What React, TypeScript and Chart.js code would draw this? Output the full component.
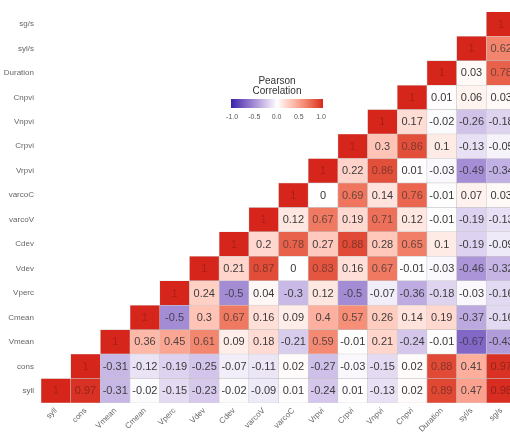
import React, { useEffect, useRef } from 'react';
import { Chart, registerables } from 'chart.js';

Chart.register(...registerables);

const variables = ['syll', 'cons', 'Vmean', 'Cmean', 'Vperc', 'Vdev', 'Cdev', 'varcoV', 'varcoC', 'Vrpvi', 'Crpvi', 'Vnpvi', 'Cnpvi', 'Duration', 'syl/s', 'sg/s'];

// Each row lists correlations from the diagonal cell rightwards
const rowSyll = [1, 0.97, -0.31, -0.02, -0.15, -0.23, -0.02, -0.09, 0.01, -0.24, 0.01, -0.13, 0.02, 0.89, 0.47, 0.98];
const rowCons = [1, -0.31, -0.12, -0.19, -0.25, -0.07, -0.11, 0.02, -0.27, -0.03, -0.15, 0.02, 0.88, 0.41, 0.97];
const rowVmean = [1, 0.36, 0.45, 0.61, 0.09, 0.18, -0.21, 0.59, -0.01, 0.21, -0.24, -0.01, -0.67, -0.43];
const rowCmean = [1, -0.5, 0.3, 0.67, 0.16, 0.09, 0.4, 0.57, 0.26, 0.14, 0.19, -0.37, -0.16];
const rowVperc = [1, 0.24, -0.5, 0.04, -0.3, 0.12, -0.5, -0.07, -0.36, -0.18, -0.03, -0.16];
const rowVdev = [1, 0.21, 0.87, 0, 0.83, 0.16, 0.67, -0.01, -0.03, -0.46, -0.32];
const rowCdev = [1, 0.2, 0.78, 0.27, 0.88, 0.28, 0.65, 0.1, -0.19, -0.09];
const rowVarcoV = [1, 0.12, 0.67, 0.19, 0.71, 0.12, -0.01, -0.19, -0.13];
const rowVarcoC = [1, 0, 0.69, 0.14, 0.76, -0.01, 0.07, 0.03];
const rowVrpvi = [1, 0.22, 0.86, 0.01, -0.03, -0.49, -0.34];
const rowCrpvi = [1, 0.3, 0.86, 0.1, -0.13, -0.05];
const rowVnpvi = [1, 0.17, -0.02, -0.26, -0.18];
const rowCnpvi = [1, 0.01, 0.06, 0.03];
const rowDuration = [1, 0.03, 0.78];
const rowSylS = [1, 0.62];
const rowSgS = [1];

const corrRows = [rowSyll, rowCons, rowVmean, rowCmean, rowVperc, rowVdev, rowCdev, rowVarcoV, rowVarcoC, rowVrpvi, rowCrpvi, rowVnpvi, rowCnpvi, rowDuration, rowSylS, rowSgS];

const legendTicks = [-1.0, -0.5, 0.0, 0.5, 1.0];
const legendTitle = ['Pearson', 'Correlation'];

const LOW = [50, 34, 168];
const MID = [255, 255, 255];
const HIGH = [214, 38, 28];

function toLin(c: number) {
  c /= 255;
  return c <= 0.04045 ? c / 12.92 : Math.pow((c + 0.055) / 1.055, 2.4);
}
function toSrgb(c: number) {
  const v = c <= 0.0031308 ? 12.92 * c : 1.055 * Math.pow(Math.max(c, 0), 1 / 2.4) - 0.055;
  return Math.round(Math.max(0, Math.min(1, v)) * 255);
}
function rgbToLab(rgb: number[]) {
  const R = toLin(rgb[0]), G = toLin(rgb[1]), B = toLin(rgb[2]);
  const X = (0.4124 * R + 0.3576 * G + 0.1805 * B) / 0.95047;
  const Y = 0.2126 * R + 0.7152 * G + 0.0722 * B;
  const Z = (0.0193 * R + 0.1192 * G + 0.9505 * B) / 1.08883;
  const f = (t: number) => (t > 0.008856 ? Math.cbrt(t) : 7.787 * t + 16 / 116);
  const fx = f(X), fy = f(Y), fz = f(Z);
  return [116 * fy - 16, 500 * (fx - fy), 200 * (fy - fz)];
}
function labToRgb(lab: number[]) {
  const fy = (lab[0] + 16) / 116;
  const fx = fy + lab[1] / 500;
  const fz = fy - lab[2] / 200;
  const finv = (t: number) => (t * t * t > 0.008856 ? t * t * t : (t - 16 / 116) / 7.787);
  const X = finv(fx) * 0.95047, Y = finv(fy), Z = finv(fz) * 1.08883;
  const R = 3.2406 * X - 1.5372 * Y - 0.4986 * Z;
  const G = -0.9689 * X + 1.8758 * Y + 0.0415 * Z;
  const B = 0.0557 * X - 0.204 * Y + 1.057 * Z;
  return [toSrgb(R), toSrgb(G), toSrgb(B)];
}
const LAB_LOW = rgbToLab(LOW);
const LAB_MID = rgbToLab(MID);
const LAB_HIGH = rgbToLab(HIGH);

function corrRgb(v: number) {
  const t = Math.min(1, Math.abs(v));
  const end = v < 0 ? LAB_LOW : LAB_HIGH;
  return labToRgb([0, 1, 2].map((i) => LAB_MID[i] + (end[i] - LAB_MID[i]) * t));
}
const rgbStr = (c: number[]) => `rgb(${c[0]},${c[1]},${c[2]})`;

function textColor(v: number) {
  const cell = corrRgb(v);
  const gray = [55, 55, 55];
  const t = Math.pow(Math.abs(v), 2);
  const k = Math.abs(v) >= 0.999 ? 0.8 : 0.7;
  const dark = cell.map((c) => c * k);
  return rgbStr(gray.map((g, i) => Math.round(g + (dark[i] - g) * t)));
}

const cellValue = (r: number, c: number) => (c >= r ? corrRows[r][c - r] : null);

const FONT = '"Liberation Sans", Arial, Helvetica, sans-serif';

const overlayPlugin = {
  id: 'corrOverlay',
  afterDatasetsDraw(chart: any) {
    const ctx = chart.ctx;
    ctx.save();
    ctx.font = `11px ${FONT}`;
    ctx.textAlign = 'center';
    ctx.textBaseline = 'middle';
    chart.data.datasets.forEach((ds: any, r: number) => {
      const meta = chart.getDatasetMeta(r);
      meta.data.forEach((el: any, c: number) => {
        const v = cellValue(r, c);
        if (v === null || v === undefined) return;
        const p = el.getProps(['x', 'y', 'base'], true);
        ctx.fillStyle = textColor(v);
        ctx.fillText(String(v), p.x, (p.y + p.base) / 2 + 0.5);
      });
    });
    ctx.restore();
  },
  afterDraw(chart: any) {
    const ctx = chart.ctx;
    ctx.save();
    const x0 = 231, x1 = 323, y0 = 99, y1 = 108;
    ctx.fillStyle = '#333';
    ctx.font = `10px ${FONT}`;
    ctx.textAlign = 'center';
    ctx.textBaseline = 'middle';
    ctx.fillText(legendTitle[0], 277, 81);
    ctx.fillText(legendTitle[1], 277, 91);
    const grad = ctx.createLinearGradient(x0, 0, x1, 0);
    for (let i = 0; i <= 40; i++) {
      const v = -1 + (2 * i) / 40;
      grad.addColorStop(i / 40, rgbStr(corrRgb(v)));
    }
    ctx.fillStyle = grad;
    ctx.fillRect(x0, y0, x1 - x0, y1 - y0);
    ctx.fillStyle = '#555';
    ctx.font = `7px ${FONT}`;
    legendTicks.forEach((t) => {
      const x = 232 + ((t + 1) / 2) * (321 - 232);
      ctx.fillText(t.toFixed(1), x, 117);
    });
    ctx.restore();
  },
};

export default function App() {
  const canvasRef = useRef<HTMLCanvasElement | null>(null);

  useEffect(() => {
    const canvas = canvasRef.current;
    if (!canvas) return;
    const datasets = corrRows.map((_, r) => ({
      label: variables[r],
      data: variables.map((__, c) => (c >= r ? [r - 0.5, r + 0.5] : null)),
      backgroundColor: variables.map((__, c) => {
        const v = cellValue(r, c);
        return v === null ? 'transparent' : rgbStr(corrRgb(v));
      }),
      borderColor: 'rgba(140,140,140,0.35)',
      borderWidth: 0.6,
      borderSkipped: false,
      grouped: false,
      barPercentage: 1,
      categoryPercentage: 1,
    }));

    const chart = new Chart(canvas, {
      type: 'bar',
      data: { labels: variables, datasets: datasets as any },
      options: {
        responsive: false,
        animation: false,
        maintainAspectRatio: false,
        layout: { padding: { top: 6, right: 4, left: 0, bottom: 0 } },
        plugins: { legend: { display: false }, tooltip: { enabled: false } },
        scales: {
          x: {
            type: 'category',
            grid: { display: false, drawTicks: false },
            border: { display: false },
            ticks: {
              autoSkip: false,
              maxRotation: 45,
              minRotation: 45,
              padding: 3,
              color: '#666',
              font: { size: 8, family: FONT },
            },
            afterFit: (s: any) => {
              s.height = 32;
            },
          },
          y: {
            type: 'linear',
            min: -0.5,
            max: 15.5,
            grid: { display: false, drawTicks: false },
            border: { display: false },
            afterBuildTicks: (s: any) => {
              s.ticks = variables.map((__, i) => ({ value: i }));
            },
            ticks: {
              padding: 7,
              color: '#666',
              font: { size: 8, family: FONT },
              callback: (v: any) => variables[Math.round(Number(v))] ?? '',
            },
            afterFit: (s: any) => {
              s.width = 41;
            },
          },
        },
      },
      plugins: [overlayPlugin],
    });
    return () => chart.destroy();
  }, []);

  return (
    <div style={{ position: 'absolute', left: 0, top: 0, width: 510, height: 435, overflow: 'hidden', background: '#fff' }}>
      <canvas ref={canvasRef} width={520} height={435} style={{ display: 'block' }} />
    </div>
  );
}
